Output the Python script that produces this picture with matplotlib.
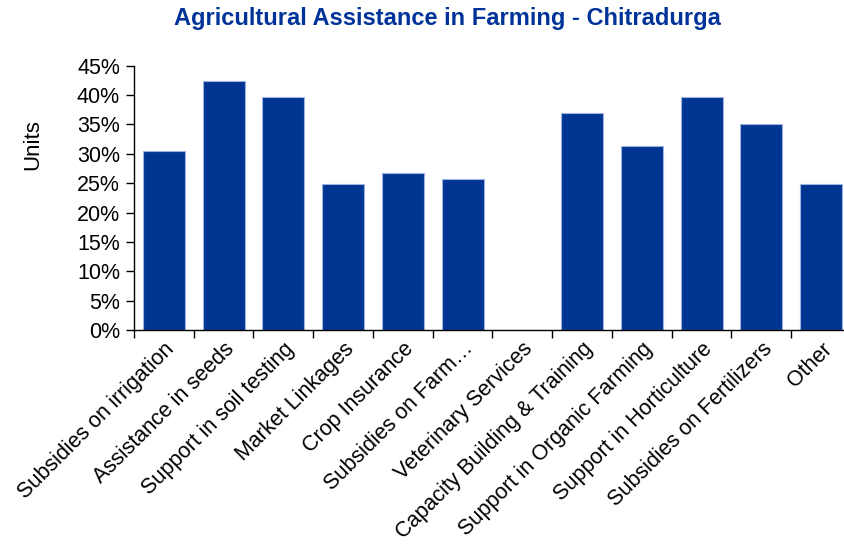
import matplotlib
matplotlib.use("Agg")
import matplotlib.pyplot as plt
from matplotlib.ticker import PercentFormatter
import numpy as np

categories = ["Subsidies on irrigation", "Assistance in seeds", "Support in soil testing",
              "Market Linkages", "Crop Insurance", "Subsidies on Farm…",
              "Veterinary Services", "Capacity Building & Training",
              "Support in Organic Farming", "Support in Horticulture",
              "Subsidies on Fertilizers", "Other"]
values = [30.5, 42.4, 39.7, 24.9, 26.7, 25.7, 0.0, 36.9, 31.4, 39.7, 35.1, 24.9]
yticks = [0, 5, 10, 15, 20, 25, 30, 35, 40, 45]

plt.rcParams['font.family'] = ['Liberation Sans', 'DejaVu Sans']

W, H = 845, 547
fig = plt.figure(figsize=(W/100, H/100), dpi=100)
ax = fig.add_axes([134/W, 1-330/H, (851-134)/W, (330-65.7)/H])

x = np.arange(len(categories))
ax.bar(x, values, width=0.7, color='#003591', edgecolor='#9fb3e0', linewidth=0.8)
ax.set_xlim(-0.5, len(categories)-0.5)
ax.set_ylim(0, 45)
ax.set_yticks(yticks)
ax.yaxis.set_major_formatter(PercentFormatter(decimals=0))
ax.tick_params(axis='y', labelsize=15.5, length=6, direction='out', width=1, pad=4)
ax.set_xticks(np.arange(-0.5, len(categories), 1.0))
ax.set_xticklabels([])
ax.tick_params(axis='x', length=6, direction='out', width=1)
ax.set_xticks(x, minor=True)
ax.set_xticklabels(categories, minor=True, rotation=45, ha='right', rotation_mode='anchor', fontsize=15.5)
ax.tick_params(axis='x', which='minor', length=0, pad=6)
for s in ['top', 'right']:
    ax.spines[s].set_visible(False)
ax.spines['left'].set_linewidth(1)
ax.spines['bottom'].set_linewidth(1)

fig.text(33/W, 1-145/H, "Units", rotation=90, ha='center', va='center', fontsize=16)
fig.text(447/W, 1-18/H, "Agricultural Assistance in Farming - Chitradurga", ha='center', va='center',
         fontsize=17, fontweight='bold', color='#003399')

fig.savefig("out.png", dpi=100)
